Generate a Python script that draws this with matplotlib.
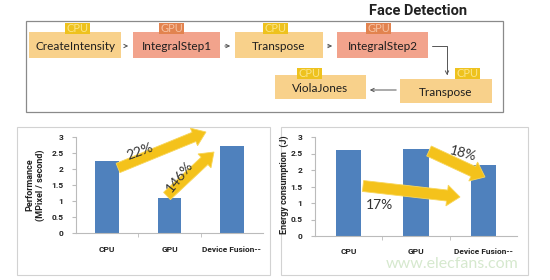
import matplotlib
matplotlib.use("Agg")
import matplotlib.pyplot as plt
import matplotlib.transforms as mtrans
from matplotlib.patches import Rectangle, FancyArrow, FancyArrowPatch

# ---------------- data ----------------
steps = ["CreateIntensity", "IntegralStep1", "Transpose", "IntegralStep2", "Transpose", "ViolaJones"]
devices = ["CPU", "GPU", "CPU", "GPU", "CPU", "CPU"]
categories = ["CPU", "GPU", "Device Fusion--"]
performance = [2.25, 1.1, 2.72]
energy = [2.62, 2.63, 2.15]
perf_gains = ["22%", "146%"]
energy_gains = ["17%", "18%"]
yticks = [0, 0.5, 1, 1.5, 2, 2.5, 3]
ytick_labels = ["0", "0.5", "1", "1.5", "2", "2.5", "3"]

W, H = 550, 280
fig = plt.figure(figsize=(W / 100, H / 100), dpi=100)
fig.patch.set_facecolor("white")
px = mtrans.Affine2D().scale(1, -1).translate(0, H).scale(1 / 100) + fig.dpi_scale_trans

FONT = "Lato"
BOLD = "Roboto"
cpu_fill, cpu_tag, cpu_txt = "#F8D18B", "#EEC21E", "#FBE58A"
gpu_fill, gpu_tag, gpu_txt = "#F2A38C", "#E2834F", "#F7C2A2"

# ---------------- flow diagram ----------------
fig.text(467 / W, 1 - 11 / H, "Face Detection", ha="right", va="center",
         fontsize=10.5, fontweight="bold", family=BOLD, color="#222222")
fig.add_artist(Rectangle((26, 21), 477, 91, transform=px, fill=False,
                         edgecolor="#8A8A8A", lw=0.9))

# box layout: (x0, y0, w, h, tag_x0, tag_y0)
boxes = [
    (29, 32, 92, 26, 65, 23),
    (133, 32, 87, 26, 159, 23),
    (235, 32, 88, 26, 263, 23),
    (337, 32, 91, 26, 366, 23),
    (400, 79, 92, 24, 455, 68),
    (275, 75, 91, 24, 297, 68),
]
for (x0, y0, w, h, tx, ty), name, dev in zip(boxes, steps, devices):
    fill, tag, txt = (cpu_fill, cpu_tag, cpu_txt) if dev == "CPU" else (gpu_fill, gpu_tag, gpu_txt)
    fig.add_artist(Rectangle((x0, y0), w, h, transform=px, facecolor=fill, edgecolor="none"))
    fig.add_artist(Rectangle((tx, ty), 25, 11, transform=px, facecolor=tag, edgecolor="none"))
    fig.text(tx + 12.5, ty + 5.8, dev, transform=px,
             fontsize=8, family=FONT, color=txt, ha="center", va="center")
    fig.text(x0 + w / 2, y0 + h / 2 + 1, name, transform=px, fontsize=8.5, family=FONT,
             color="#1E1E1E", ha="center", va="center")

arrow_kw = dict(arrowstyle="->", mutation_scale=6, color="#555555", lw=0.7, transform=px)
for xa, xb in [(123, 131), (222, 233), (325, 335)]:
    fig.add_artist(FancyArrowPatch((xa, 46), (xb, 46), **arrow_kw))
fig.add_artist(FancyArrowPatch((429, 46), (447, 78), connectionstyle="angle,angleA=0,angleB=90,rad=0",
                               **arrow_kw))
fig.add_artist(FancyArrowPatch((399, 90), (367, 90), **arrow_kw))

# ---------------- panel borders ----------------
fig.add_artist(Rectangle((17, 127), 253, 148, transform=px, fill=False, edgecolor="#D2D2D2", lw=0.8))
fig.add_artist(Rectangle((281, 127), 247, 148, transform=px, fill=False, edgecolor="#D2D2D2", lw=0.8))


def setup_axes(rect, values, ylabel, ylabel_x):
    ax = fig.add_axes(rect)
    ax.bar(range(len(categories)), values, width=0.38, color="#4F81BD")
    ax.set_xlim(-0.5, len(categories) - 0.5)
    ax.set_ylim(0, 3)
    ax.set_yticks(yticks)
    ax.set_yticklabels(ytick_labels, fontsize=6, fontweight="bold", family=BOLD, color="#222222")
    ax.set_xticks(range(len(categories)))
    ax.set_xticklabels(categories, fontsize=6, fontweight="bold", family=BOLD, color="#222222")
    ax.set_xticks([0.5, 1.5], minor=True)
    ax.tick_params(axis="x", which="major", length=0, pad=9)
    ax.tick_params(axis="x", which="minor", length=3, color="#BBBBBB", direction="out")
    ax.tick_params(axis="y", length=3, color="#BBBBBB", pad=6)
    for s in ["top", "right"]:
        ax.spines[s].set_visible(False)
    for s in ["left", "bottom"]:
        ax.spines[s].set_color("#BBBBBB")
        ax.spines[s].set_linewidth(0.8)
    ax.patch.set_alpha(0)
    fig.text(ylabel_x / W, 1 - 185 / H, ylabel, rotation=90, ha="center", va="center",
             fontsize=6.5, fontweight="bold", family=BOLD, color="#222222", linespacing=1.2)
    return ax


ax1 = setup_axes([76 / W, 47 / H, 187 / W, 96 / H], performance, "Performance\n(MPixel / second)", 35)
ax2 = setup_axes([315 / W, 44 / H, 202 / W, 99 / H], energy, "Energy consumption  (J)", 284)

# ---------------- yellow arrows ----------------
arrow_color = "#F4C21B"


def big_arrow(x0, y0, x1, y1, width):
    fig.add_artist(FancyArrow(x0, y0, x1 - x0, y1 - y0, width=width, head_width=width * 1.9,
                              head_length=13, length_includes_head=True, transform=px,
                              facecolor=arrow_color, edgecolor="#F8D65A", lw=0.6))


big_arrow(118, 168, 206, 132, 10)
big_arrow(167, 196, 214, 152, 10)
big_arrow(363, 186, 460, 197, 11)
big_arrow(429, 151, 485, 177, 11)

pct_kw = dict(transform=px, fontsize=10, family=FONT, color="#333333", ha="center", va="center")
fig.text(140, 152, perf_gains[0], rotation=20, **pct_kw)
fig.text(180, 177, perf_gains[1], rotation=52, **pct_kw)
fig.text(379, 205, energy_gains[0], rotation=0, **pct_kw)
fig.text(463, 154, energy_gains[1], rotation=-15, **pct_kw)

# faint watermark
fig.text(452, 264, "www.elecfans.com", transform=px, fontsize=11.5, family=FONT,
         color="#CFE5C6", ha="center", va="center", alpha=0.85)

fig.savefig("out.png", dpi=100)
